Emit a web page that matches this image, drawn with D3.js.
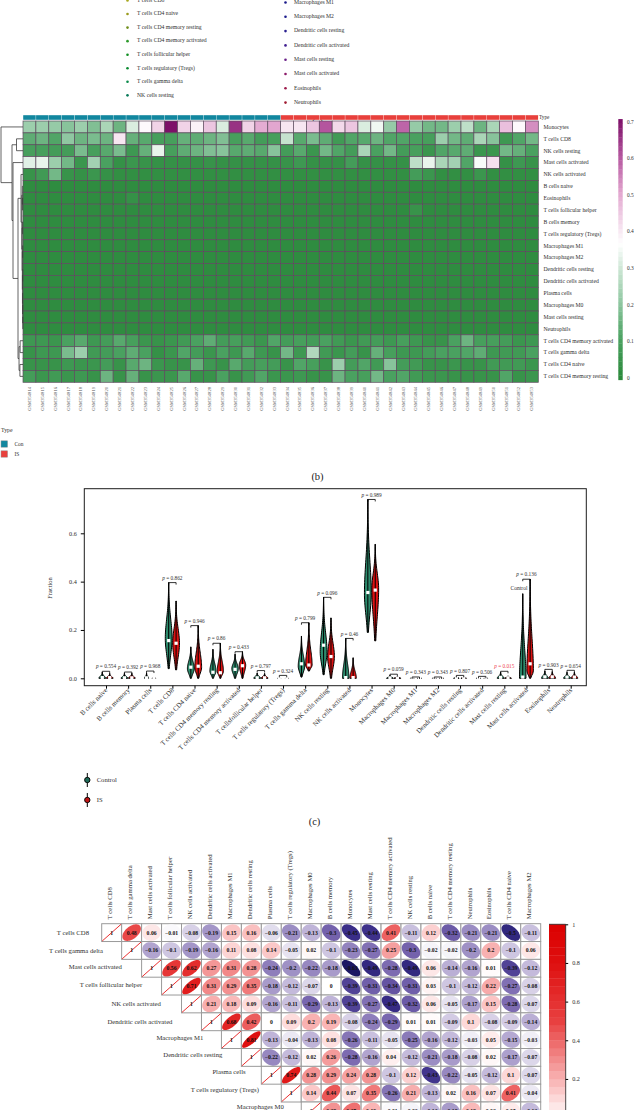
<!DOCTYPE html>
<html><head><meta charset="utf-8">
<script src="https://cdn.jsdelivr.net/npm/d3@7"></script>
<style>
html,body{margin:0;padding:0;background:#fff;overflow:hidden}
svg{display:block}
text{font-family:"Liberation Serif",serif}
</style></head><body><svg id="c" width="634" height="1110"></svg>
<script>
// ---------- panel (a) legend ----------
const legendLeft = ["T cells CD8","T cells CD4 naive","T cells CD4 memory resting","T cells CD4 memory activated","T cells follicular helper","T cells regulatory (Tregs)","T cells gamma delta","NK cells resting"];
const legendLeftColors = ["#a8a820","#9a9a1c","#6f8e1a","#2c9a2a","#0e8e20","#0a8a30","#0a8a4a","#0a7a5a"];
const legendRight = ["Macrophages M1","Macrophages M2","Dendritic cells resting","Dendritic cells activated","Mast cells resting","Mast cells activated","Eosinophils","Neutrophils"];
const legendRightColors = ["#1a1a8a","#1c1c8c","#2a2090","#401e90","#6a2088","#8c1a6a","#9c1a4a","#a01a30"];

// ---------- panel (b) heatmap ----------
const heatSamples = ["GSM354814","GSM354815","GSM354816","GSM354817","GSM354818","GSM354819","GSM354820","GSM354821","GSM354822","GSM354823","GSM354824","GSM354825","GSM354826","GSM354827","GSM354828","GSM354829","GSM354830","GSM354831","GSM354832","GSM354833","GSM354834","GSM354835","GSM354836","GSM354837","GSM354838","GSM354839","GSM354840","GSM354841","GSM354842","GSM354843","GSM354844","GSM354845","GSM354846","GSM354847","GSM354848","GSM354849","GSM354850","GSM354851","GSM354852","GSM354853"];
const heatTypes = ["Con","Con","Con","Con","Con","Con","Con","Con","Con","Con","Con","Con","Con","Con","Con","Con","Con","Con","Con","Con","IS","IS","IS","IS","IS","IS","IS","IS","IS","IS","IS","IS","IS","IS","IS","IS","IS","IS","IS","IS"];
const heatCellTypes = ["Monocytes","T cells CD8","NK cells resting","Mast cells activated","NK cells activated","B cells naive","Eosinophils","T cells follicular helper","B cells memory","T cells regulatory (Tregs)","Macrophages M1","Macrophages M2","Dendritic cells resting","Dendritic cells activated","Plasma cells","Macrophages M0","Mast cells resting","Neutrophils","T cells CD4 memory activated","T cells gamma delta","T cells CD4 naive","T cells CD4 memory resting"];
const hMono = [.22,.22,.21,.19,.22,.18,.24,.15,.31,.37,.43,.70,.43,.38,.45,.31,.65,.43,.49,.50,.40,.40,.45,.60,.42,.45,.31,.34,.21,.58,.21,.16,.16,.22,.27,.15,.24,.46,.37,.53];
const hCD8 = [.13,.15,.11,.20,.15,.17,.15,.40,.14,.12,.09,.09,.14,.13,.15,.18,.09,.12,.08,.09,.28,.12,.17,.13,.07,.11,.12,.15,.11,.11,.10,.09,.22,.16,.13,.24,.19,.06,.11,.16];
const hNKr = [.09,.09,.08,.08,.17,.09,.12,.17,.06,.14,.33,.09,.13,.15,.18,.19,.12,.13,.12,.19,.08,.12,.05,.16,.11,.08,.24,.10,.16,.08,.09,.05,.11,.12,.13,.05,.05,.16,.14,.10];
const hMastA = [.32,.33,.22,.16,.05,.23,.10,.03,.05,.04,.03,.03,.03,.03,.04,.03,.03,.03,.03,.03,.04,.06,.03,.03,.03,.08,.03,.03,.03,.03,.27,.33,.24,.23,.11,.35,.41,.03,.06,.04];
const hNKa = [.04,.07,.16,.04,.03,.05,.03,.02,.02,.02,.02,.02,.02,.02,.02,.02,.02,.02,.02,.02,.02,.02,.02,.02,.02,.02,.02,.02,.02,.02,.08,.05,.02,.02,.02,.05,.02,.02,.02,.02];
const hBn = [.01,.01,.01,.01,.01,.01,.01,.01,.01,.01,.01,.01,.01,.01,.01,.01,.01,.01,.01,.01,.01,.01,.01,.01,.01,.01,.01,.01,.01,.01,.01,.01,.01,.01,.01,.01,.01,.01,.01,.01];
const hEos = [.01,.01,.01,.01,.01,.01,.01,.01,.03,.01,.01,.01,.01,.01,.01,.01,.01,.01,.01,.01,.01,.01,.01,.01,.01,.01,.01,.01,.01,.01,.01,.01,.01,.01,.01,.01,.01,.01,.01,.01];
const hTfh = [.01,.01,.01,.01,.01,.01,.01,.01,.01,.01,.01,.01,.01,.01,.01,.01,.01,.01,.01,.01,.01,.01,.01,.01,.01,.01,.01,.01,.01,.01,.04,.01,.01,.01,.01,.01,.01,.01,.01,.01];
const hBm = [.01,.01,.01,.01,.01,.01,.01,.01,.01,.01,.01,.01,.01,.01,.01,.01,.01,.01,.01,.01,.01,.01,.01,.01,.01,.01,.01,.01,.01,.01,.01,.01,.01,.01,.01,.01,.01,.01,.01,.01];
const hTreg = [.01,.01,.01,.01,.01,.01,.01,.01,.01,.01,.01,.01,.01,.01,.01,.01,.01,.01,.01,.01,.01,.01,.01,.01,.01,.01,.01,.01,.01,.01,.01,.01,.01,.01,.01,.01,.01,.01,.01,.01];
const hM1 = [.01,.01,.01,.01,.01,.01,.01,.01,.01,.01,.01,.01,.01,.01,.01,.01,.01,.01,.01,.01,.01,.01,.01,.01,.01,.01,.01,.01,.01,.01,.01,.01,.01,.01,.01,.01,.01,.01,.01,.01];
const hM2 = [.01,.01,.01,.01,.01,.01,.01,.01,.01,.01,.01,.01,.01,.01,.01,.01,.01,.01,.01,.01,.01,.01,.01,.01,.01,.01,.01,.01,.01,.01,.01,.01,.01,.01,.01,.01,.01,.01,.01,.01];
const hDCr = [.01,.01,.01,.01,.01,.01,.01,.01,.01,.01,.01,.01,.01,.01,.01,.01,.01,.01,.01,.01,.01,.01,.01,.01,.01,.01,.01,.01,.01,.01,.01,.01,.01,.01,.01,.01,.01,.01,.01,.01];
const hDCa = [.01,.01,.01,.01,.01,.01,.01,.01,.01,.01,.01,.01,.01,.01,.01,.01,.01,.01,.01,.01,.01,.01,.01,.01,.01,.01,.01,.01,.01,.01,.01,.01,.01,.01,.01,.01,.01,.01,.01,.01];
const hPlasma = [.01,.01,.01,.01,.01,.01,.01,.01,.01,.01,.01,.01,.01,.01,.01,.01,.01,.01,.01,.01,.01,.01,.01,.01,.01,.01,.01,.01,.01,.01,.01,.01,.01,.01,.01,.01,.01,.01,.01,.01];
const hM0 = [.01,.01,.01,.01,.01,.01,.01,.01,.01,.01,.01,.01,.01,.01,.01,.01,.01,.01,.01,.01,.01,.01,.01,.01,.01,.01,.01,.01,.01,.01,.01,.01,.01,.01,.01,.01,.01,.01,.01,.01];
const hMastR = [.01,.01,.01,.01,.01,.01,.01,.01,.01,.01,.01,.01,.01,.01,.01,.01,.01,.01,.01,.01,.01,.01,.01,.01,.01,.01,.01,.01,.01,.01,.01,.01,.01,.01,.01,.01,.01,.01,.01,.01];
const hNeut = [.01,.01,.01,.01,.01,.01,.01,.01,.01,.01,.01,.01,.01,.01,.01,.01,.01,.01,.01,.01,.01,.01,.01,.01,.01,.01,.01,.01,.01,.01,.01,.01,.01,.01,.01,.01,.01,.01,.01,.01];
const hCD4ma = [.06,.06,.05,.10,.12,.06,.08,.12,.09,.05,.04,.05,.07,.10,.13,.08,.09,.07,.05,.11,.08,.09,.08,.10,.07,.05,.07,.08,.06,.09,.06,.04,.04,.10,.15,.09,.09,.08,.05,.06];
const hGamma = [.04,.06,.06,.17,.22,.07,.08,.10,.13,.10,.03,.05,.11,.08,.05,.10,.06,.12,.06,.04,.16,.06,.25,.07,.05,.08,.04,.14,.09,.06,.06,.08,.10,.10,.11,.13,.06,.07,.07,.10];
const hCD4n = [.04,.04,.04,.06,.05,.05,.08,.04,.12,.15,.05,.04,.04,.14,.06,.04,.12,.08,.09,.08,.04,.11,.09,.04,.22,.08,.11,.07,.19,.08,.07,.04,.04,.05,.04,.04,.07,.07,.07,.05];
const hCD4r = [.08,.05,.07,.05,.06,.04,.15,.04,.14,.04,.05,.05,.12,.04,.04,.10,.04,.07,.11,.05,.05,.06,.04,.04,.15,.10,.09,.16,.10,.11,.07,.05,.05,.04,.04,.04,.04,.11,.04,.05];
const heatValues = [hMono,hCD8,hNKr,hMastA,hNKa,hBn,hEos,hTfh,hBm,hTreg,hM1,hM2,hDCr,hDCa,hPlasma,hM0,hMastR,hNeut,hCD4ma,hGamma,hCD4n,hCD4r];
const heatTicks = [0,.1,.2,.3,.4,.5,.6,.7];
// row dendrogram: leaves are row indices, h is merge height
const heatTree = {h:1,c:[0,{h:.5,c:[{h:.295,c:[1,2]},{h:.4545,c:[3,{h:.227,c:[
  {h:.09,c:[4,{h:.055,c:[{h:.03,c:[5,{h:.02,c:[6,7]}]},{h:.04,c:[{h:.02,c:[8,9]},{h:.03,c:[{h:.015,c:[10,11]},{h:.025,c:[{h:.012,c:[12,13]},{h:.02,c:[14,{h:.015,c:[15,{h:.01,c:[16,17]}]}]}]}]}]}]}]},
  {h:.18,c:[{h:.13,c:[18,19]},{h:.14,c:[20,21]}]}]}]}]}]};

// ---------- panel (c) violins ----------
const violinCats = ["B cells naive","B cells memory","Plasma cells","T cells CD8","T cells CD4 naive","T cells CD4 memory resting","T cells CD4 memory activated","T cellsfollicular helper","T cells regulatory (Tregs)","T cells gamma delta","NK cells resting","NK cells activated","Monocytes","Macrophages M0","Macrophages M1","Macrophages M2","Dendritic cells resting","Dendritic cells activated","Mast cells resting","Mast cells activated","Eosinophils","Neutrophils"];
const ctrlLow    = [0,0,0,.04,0,0,0,0,0,.005,.015,0,.19,0,0,0,0,0,0,0,0,0];
const ctrlHigh   = [.025,.02,.022,.396,.13,.12,.1,.022,.004,.175,.335,.165,.74,.012,.004,.004,.008,.005,.025,.35,.03,.025];
const ctrlPeak   = [0,0,0,.165,.04,.03,.04,0,0,.05,.11,0,.35,0,0,0,0,0,0,0,0,0];
const ctrlMedian = [.003,.002,.002,.156,.046,.025,.037,.002,.001,.06,.137,.003,.355,.002,.001,.001,.002,.001,.004,.005,.006,.005];
const isLow      = [0,0,0,.035,0,0,0,0,0,.03,0,0,.155,0,0,0,0,0,0,0,0,0];
const isHigh     = [.02,.02,.005,.32,.218,.145,.11,.02,.004,.23,.25,.085,.555,.008,.002,.003,.006,.004,.01,.41,.028,.025];
const isPeak     = [0,0,0,.145,.045,.03,.055,0,0,.055,.09,0,.37,0,0,0,0,0,0,.03,0,0];
const isMedian   = [.003,.002,.001,.145,.05,.023,.052,.002,.001,.055,.09,.003,.365,.001,.001,.001,.001,.001,.002,.06,.006,.005];
const violinWide = [1,1,.6,1,1,.9,.95,1,.5,.95,1,.95,1,1,.6,.6,.8,.6,1,.95,1,1];
const pBracket   = [.029,.026,.03,.396,.218,.145,.11,.032,.012,.23,.335,.165,.74,.017,.0055,.0055,.012,.008,.029,.41,.037,.033];
const pValues    = ["0.554","0.392","0.968","0.862","0.946","0.86","0.433","0.797","0.324","0.799","0.096","0.46","0.989","0.059","0.343","0.343","0.807","0.506","0.015","0.136","0.903","0.654"];
const violinTicks = [0,.2,.4,.6];

// ---------- panel (d) correlation ----------
const corrNames = ["T cells CD8","T cells gamma delta","Mast cells activated","T cells follicular helper","NK cells activated","Dendritic cells activated","Macrophages M1","Dendritic cells resting","Plasma cells","T cells regulatory (Tregs)","Macrophages M0","B cells memory","Monocytes","Mast cells resting","T cells CD4 memory activated","NK cells resting","B cells naive","T cells CD4 memory resting","Neutrophils","Eosinophils","T cells CD4 naive","Macrophages M2"];
const corrR0 = [1,.48,.06,-.01,-.08,-.19,.15,.16,-.06,-.21,-.13,-.3,-.45,-.44,.41,-.11,.12,-.32,-.21,-.21,-.5,-.11];
const corrR1 = [1,-.16,-.1,-.19,-.16,.11,.08,.14,-.05,.02,-.1,-.23,-.27,.25,-.3,-.02,-.02,-.2,.2,-.1,.06];
const corrR2 = [1,.56,.62,.27,.31,.28,-.24,-.2,-.22,-.18,-.63,-.49,-.28,-.49,.06,-.14,-.16,.01,-.39,-.12];
const corrR3 = [1,.71,.31,.29,.35,-.18,-.12,-.07,0,-.39,-.31,-.34,-.31,.03,-.1,-.12,.22,-.27,-.08];
const corrR4 = [1,.21,.18,.09,-.16,-.11,-.29,-.13,-.39,-.27,-.47,-.32,.06,-.05,-.17,.15,-.28,-.07];
const corrR5 = [1,.68,.42,0,.09,.2,.19,-.08,-.24,-.29,.01,.01,-.09,.1,-.08,-.09,-.14];
const corrR6 = [1,.81,-.13,-.04,-.13,.08,-.26,-.11,-.05,-.25,-.16,-.12,-.03,.05,-.15,-.03];
const corrR7 = [1,-.22,-.12,.02,.26,-.28,-.16,.04,-.12,-.21,-.18,-.08,.02,-.17,-.07];
const corrR8 = [1,.74,.28,.29,.24,.28,-.1,.12,-.43,-.22,-.05,-.12,.1,-.07];
const corrR9 = [1,.14,.44,.07,.35,-.26,.21,-.13,.02,.16,.07,.41,-.04];
const corrR10 = [1,.28,.37,.19,-.01,-.02,-.13,-.18,.18,.02,.05,-.12];
const corrRows = [corrR0,corrR1,corrR2,corrR3,corrR4,corrR5,corrR6,corrR7,corrR8,corrR9,corrR10];
const corrTicks = [.2,.4,.6,.8,1];

const svg = d3.select("#c");
const txt = "#2f2f2f";

// ---- (a)
function legendCol(names, colors, dotX, y0, dy){
  const y = d3.scaleLinear().domain([0,7]).range([y0,y0+dy*7]);
  const g = svg.append("g");
  g.selectAll("circle").data(names).join("circle").attr("cx",dotX).attr("cy",(d,i)=>y(i)+.5).attr("r",1.3).attr("fill",(d,i)=>colors[i]);
  g.selectAll("text").data(names).join("text").attr("x",dotX+(dotX<200?9.5:8.5)).attr("y",(d,i)=>y(i)).attr("dy","0.32em").attr("font-size",5.7).attr("fill",txt).text(d=>d);
}
legendCol(legendLeft,legendLeftColors,127.5,0,13.55);
legendCol(legendRight,legendRightColors,285.5,2,14.3);
function panelLabel(s,x,y){svg.append("text").attr("x",x).attr("y",y).attr("dy","0.32em").attr("text-anchor","middle").attr("font-size",10.5).attr("fill","#222").text(s);}
panelLabel("(a)",317.5,123);

// ---- (b)
const hx = d3.scaleBand().domain(heatSamples).range([23,538.3]);
const hy = d3.scaleBand().domain(heatCellTypes).range([121,382.3]);
const hc = d3.scaleLinear().domain([0,.1,.2,.3,.36,.5,.6,.7]).range(["#2c8a3c","#4aa160","#8fc7a1","#d2e9d9","#ffffff","#e2a6cf","#b4559e","#7d1068"]);
const typeColor = d3.scaleOrdinal().domain(["Con","IS"]).range(["#12879f","#e8403c"]);
svg.append("g").selectAll("rect").data(heatSamples).join("rect").attr("x",d=>hx(d)+.2).attr("y",115.2).attr("width",hx.bandwidth()-.4).attr("height",4.6).attr("fill",(d,i)=>typeColor(heatTypes[i]));
const gh = svg.append("g");
heatValues.forEach((row,r)=>{
  gh.append("g").selectAll("rect").data(row).join("rect")
    .attr("x",(d,i)=>hx(heatSamples[i])).attr("y",hy(heatCellTypes[r])).attr("width",hx.bandwidth()).attr("height",hy.bandwidth())
    .attr("fill",d=>hc(d)).attr("stroke","#5d4c5e").attr("stroke-width",.7);
});
svg.append("g").selectAll("text").data(heatCellTypes).join("text").attr("x",543.5).attr("y",d=>hy(d)+hy.bandwidth()/2).attr("dy","0.32em").attr("font-size",5.7).attr("fill",txt).text(d=>d);
svg.append("text").attr("x",539).attr("y",117.5).attr("dy","0.32em").attr("font-size",5.2).attr("fill",txt).text("Type");
svg.append("g").selectAll("text").data(heatSamples).join("text")
  .attr("transform",d=>`translate(${hx(d)+hx.bandwidth()/2},387) rotate(-90)`).attr("text-anchor","end").attr("dy","0.32em")
  .attr("font-size",4.6).attr("fill","#555").text(d=>d);
// dendrogram
const gd = svg.append("g").attr("fill","none").attr("stroke","#3c3c3c").attr("stroke-width",.8);
const dx = d3.scaleLinear().domain([0,1]).range([23,1]);
function drawNode(n){
  if(typeof n==="number") return {x:dx(0),y:hy(heatCellTypes[n])+hy.bandwidth()/2};
  const a=drawNode(n.c[0]), b=drawNode(n.c[1]), x=dx(n.h);
  gd.append("path").attr("d",`M${a.x},${a.y}H${x}V${b.y}H${b.x}`);
  return {x,y:(a.y+b.y)/2};
}
drawNode(heatTree);
// heat colourbar
const cbY = d3.scaleLinear().domain([0,.7]).range([378,121.8]);
const cbSteps = d3.range(-.005,.7,.0125);
svg.append("g").selectAll("rect").data(cbSteps).join("rect").attr("x",618.3).attr("width",4.4)
  .attr("y",d=>cbY(d+.0125)).attr("height",d=>cbY(d)-cbY(d+.0125)+.3).attr("fill",d=>hc(Math.max(0,d)));
svg.append("g").selectAll("text").data(heatTicks).join("text").attr("x",627).attr("y",d=>cbY(d)).attr("dy","0.32em").attr("font-size",5.4).attr("fill",txt).text(d=>d);
// type legend
svg.append("text").attr("x",1).attr("y",430.3).attr("dy","0.32em").attr("font-size",5.8).attr("fill",txt).text("Type");
const typeLeg = d3.scaleBand().domain(["Con","IS"]).range([440,460]);
svg.append("g").selectAll("rect").data(typeLeg.domain()).join("rect").attr("x",1).attr("y",d=>typeLeg(d)+.8).attr("width",6.6).attr("height",6.4).attr("fill",typeColor).attr("stroke","#999").attr("stroke-width",.5);
svg.append("g").selectAll("text").data(typeLeg.domain()).join("text").attr("x",14.5).attr("y",d=>typeLeg(d)+4).attr("dy","0.32em").attr("font-size",5.4).attr("fill",txt).text(d=>d);
panelLabel("(b)",317.5,476.5);

// ---- (c)
const vx = d3.scalePoint().domain(violinCats).range([106,570.7]);
const vy = d3.scaleLinear().domain([0,.6]).range([678.3,533.3]);
const gv = svg.append("g");
gv.append("rect").attr("x",84.3).attr("y",488.7).attr("width",502).attr("height",197).attr("fill","none").attr("stroke","#1c1c1c").attr("stroke-width",1);
const yAxis = d3.axisLeft(vy).tickValues(violinTicks).tickFormat(d3.format(".1f")).tickSize(3.5).tickPadding(4);
const gya = gv.append("g").attr("transform","translate(84.3,0)").call(yAxis);
gya.select(".domain").remove(); gya.selectAll("text").attr("font-size",6.2).attr("font-family","Liberation Serif").attr("fill",txt);
const xAxis = d3.axisBottom(vx).tickSize(3).tickPadding(2);
const gxa = gv.append("g").attr("transform","translate(0,685.7)").call(xAxis);
gxa.select(".domain").remove();
gxa.selectAll("text").attr("font-size",6.9).attr("font-family","Liberation Serif").attr("fill",txt).attr("text-anchor","end").attr("transform","translate(0,3.5) rotate(-45)").attr("dy","0.3em").attr("y",0).attr("x",0);
gv.append("text").attr("transform","translate(50,588) rotate(-90)").attr("text-anchor","middle").attr("dy","0.32em").attr("font-size",6.4).attr("fill",txt).text("Fraction");
const off = 3.7, maxHalf = 3.4;
function violin(cat,i,lo,hi,peak,med,side,fill){
  const c0 = vx(cat)+side*off, w=maxHalf*violinWide[i];
  const su=(hi-peak)/2.9, sd=Math.max(1e-4,(peak-lo)/1.9);
  const half=v=>w*Math.exp(-.5*Math.pow((v-peak)/(v>peak?su:sd),2));
  const vs=d3.range(0,41).map(k=>lo+(hi-lo)*k/40);
  const area=d3.area().x0(v=>c0-half(v)).x1(v=>c0+half(v)).y(v=>vy(v));
  gv.append("path").attr("d",area(vs)).attr("fill",fill).attr("stroke","#000").attr("stroke-width",1);
  gv.append("line").attr("x1",c0).attr("x2",c0).attr("y1",vy(lo)).attr("y2",vy(hi)).attr("stroke","#000").attr("stroke-width",1);
  gv.append("rect").attr("x",c0-1.6).attr("y",vy(med)-1.6).attr("width",3.2).attr("height",3.2).attr("fill","#fff");
}
violinCats.forEach((cat,i)=>{
  violin(cat,i,ctrlLow[i],ctrlHigh[i],ctrlPeak[i],ctrlMedian[i],-1,"#2c8a6c");
  violin(cat,i,isLow[i],isHigh[i],isPeak[i],isMedian[i],1,"#dc1212");
  const by=vy(pBracket[i]), c1=vx(cat);
  gv.append("path").attr("d",`M${c1-off},${by+2}V${by}H${c1+off}V${by+2}`).attr("fill","none").attr("stroke","#000").attr("stroke-width",.8);
  const t=gv.append("text").attr("x",c1).attr("y",by-4.5).attr("dy","0.32em").attr("text-anchor","middle").attr("font-size",5.3).attr("fill",+pValues[i]<.05?"#ee4050":txt);
  t.append("tspan").attr("font-style","italic").text("p");
  t.append("tspan").text(" = "+pValues[i]);
});
gv.append("text").attr("x",519).attr("y",588).attr("dy","0.32em").attr("text-anchor","middle").attr("font-size",5.6).attr("fill",txt).text("Control");
const vLeg = [["Control","#1f6a58"],["IS","#c01515"]];
const vLegY = d3.scalePoint().domain(["Control","IS"]).range([780,800]);
vLeg.forEach(([n,c])=>{
  const y=vLegY(n);
  gv.append("line").attr("x1",87.3).attr("x2",87.3).attr("y1",y-7).attr("y2",y+7).attr("stroke","#000").attr("stroke-width",1);
  gv.append("circle").attr("cx",87.3).attr("cy",y).attr("r",2.7).attr("fill",c).attr("stroke","#000").attr("stroke-width",.9);
  gv.append("text").attr("x",96.7).attr("y",y).attr("dy","0.32em").attr("font-size",6.6).attr("fill",txt).text(n);
});
panelLabel("(c)",314.5,821.5);

// ---- (d)
const cx = d3.scaleBand().domain(corrNames).range([101.7,540.7]);
const ch = 17.83;
const cy = d3.scaleBand().domain(corrNames).range([923.7,923.7+ch*22]);
const corrColor = d3.scaleLinear().domain([-1,-.65,-.45,-.3,-.15,0,.15,.3,.5,.8,1])
  .range(["#100c50","#17145f","#3a2e88","#7462ac","#b5a9d2","#ffffff","#fbc4c4","#f28c8c","#e84040","#de1010","#dc0000"]);
const gc = svg.append("g");
corrRows.forEach((row,r)=>{
  row.forEach((v,k)=>{
    const col=corrNames[r+k], rowN=corrNames[r];
    const x=cx(col), y=cy(rowN), w=cx.bandwidth(), h=cy.bandwidth();
    gc.append("rect").attr("x",x).attr("y",y).attr("width",w).attr("height",h).attr("fill","#fff").attr("stroke","#9a9a9a").attr("stroke-width",1);
    const d=Math.acos(v), rx=w/2*.93, ry=h/2*.93;
    const pts=d3.range(0,64).map(j=>{const t=j/64*2*Math.PI;return [x+w/2+rx*Math.cos(t+d/2), y+h/2-ry*Math.cos(t-d/2)];});
    if(v===1){
      gc.append("line").attr("x1",x+.5).attr("y1",y+h-.5).attr("x2",x+w-.5).attr("y2",y+.5).attr("stroke","#e81818").attr("stroke-width",.9);
    } else {
      gc.append("path").attr("d",d3.line().curve(d3.curveLinearClosed)(pts)).attr("fill",corrColor(v));
    }
    gc.append("text").attr("x",x+w/2).attr("y",y+h/2).attr("dy","0.34em").attr("text-anchor","middle").attr("font-size",5.7).attr("font-weight",700).attr("fill","#111")
      .text(v<0?"\u2212"+String(-v):String(v));
  });
});
const rowLabelGap = [12.7,18.7,19.7,19.4,20.7,29,18,19,15.7,22.4,17.4];
const rowLabelLift = [0,0,1,1,0,-.5,2,2.5,3,3,3.7];
svg.append("g").selectAll("text").data(corrNames.slice(0,corrRows.length)).join("text")
  .attr("x",(d,i)=>cx(d)-rowLabelGap[i]).attr("y",(d,i)=>cy(d)+ch/2-rowLabelLift[i]).attr("dy","0.32em").attr("text-anchor","end").attr("font-size",6.7).attr("fill",txt).text(d=>d);
svg.append("g").selectAll("text").data(corrNames).join("text")
  .attr("transform",d=>`translate(${cx(d)+cx.bandwidth()/2-1.5},919.3) rotate(-90)`).attr("dy","0.32em").attr("font-size",6.7).attr("fill",txt).text(d=>d);
// corr colourbar
const cbc = d3.scaleLinear().domain([0,1]).range([1117.6,924.3]);
const cbcSteps = d3.range(0,1,.04);
svg.append("g").selectAll("rect").data(cbcSteps).join("rect").attr("x",549).attr("width",16.7)
  .attr("y",d=>cbc(d+.04)).attr("height",d=>cbc(d)-cbc(d+.04)+.3).attr("fill",d=>corrColor(d+.02));
svg.append("path").attr("d","M549,924.3H565.7V1110").attr("fill","none").attr("stroke","#222").attr("stroke-width",.8);
const gcb = svg.append("g").attr("transform","translate(565.7,0)").call(d3.axisRight(cbc).tickValues(corrTicks).tickFormat(d=>d).tickSize(2.5).tickPadding(4));
gcb.select(".domain").remove(); gcb.selectAll("text").attr("font-size",6.2).attr("font-family","Liberation Serif").attr("fill",txt);
</script></body></html>
